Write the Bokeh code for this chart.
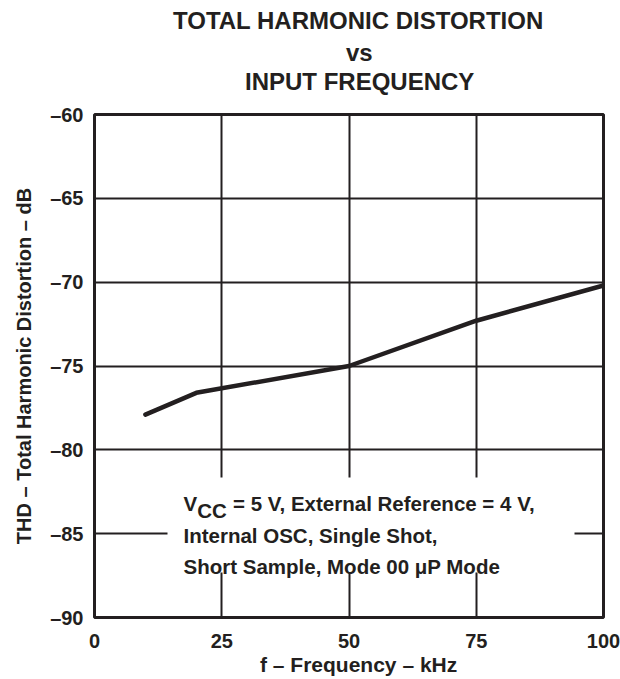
from bokeh.plotting import figure
from bokeh.models import Range1d, FixedTicker, Label, BoxAnnotation, Title
from bokeh.embed import file_html
from bokeh.resources import INLINE

# ---- data ----
freq_khz = [10, 20, 50, 75, 100]
thd_db = [-77.9, -76.6, -75.0, -72.3, -70.2]

x_ticks = [0, 25, 50, 75, 100]
x_tick_labels = ["0", "25", "50", "75", "100"]
y_ticks = [-90, -85, -80, -75, -70, -65, -60]
y_tick_labels = ["–90", "–85", "–80", "–75", "–70", "–65", "–60"]

title_lines = ["TOTAL HARMONIC DISTORTION", "vs", "INPUT FREQUENCY"]
x_label = "f – Frequency – kHz"
y_label = "THD – Total Harmonic Distortion – dB"
note_v = "V"
note_sub = "CC"
note_line1 = "= 5 V, External Reference = 4 V,"
note_line2 = "Internal OSC, Single Shot,"
note_line3 = "Short Sample, Mode 00 μP Mode"

# ---- style / layout ----
INK = "#231f20"
FONT = "Liberation Sans"
W, H = 620, 679
X0, X1 = x_ticks[0], x_ticks[-1]
Y0, Y1 = y_ticks[0], y_ticks[-1]
FL, FR, FT, FB = 94, 603, 114, 617   # frame edges on the canvas (px)


def dx(px):
    return X0 + (px - FL) / (FR - FL) * (X1 - X0)


def dy(py):
    return Y1 - (py - FT) / (FB - FT) * (Y1 - Y0)


p = figure(
    width=W, height=H,
    x_range=Range1d(X0, X1), y_range=Range1d(Y0, Y1),
    output_backend="svg", toolbar_location=None,
    min_border_left=FL, min_border_right=W - FR,
    min_border_top=FT, min_border_bottom=H - FB,
)
p.background_fill_color = "white"
p.border_fill_color = "white"
p.outline_line_color = INK
p.outline_line_width = 3

# grid
p.xgrid.ticker = FixedTicker(ticks=x_ticks)
p.ygrid.ticker = FixedTicker(ticks=y_ticks)
for g in (p.xgrid, p.ygrid):
    g.grid_line_color = INK
    g.grid_line_width = 2

# axes
p.xaxis.ticker = FixedTicker(ticks=x_ticks)
p.yaxis.ticker = FixedTicker(ticks=y_ticks)
p.xaxis.major_label_overrides = dict(zip(x_ticks, x_tick_labels))
p.yaxis.major_label_overrides = dict(zip(y_ticks, y_tick_labels))
for ax in (p.xaxis, p.yaxis):
    ax.axis_line_color = None
    ax.major_tick_line_color = None
    ax.minor_tick_line_color = None
    ax.major_tick_in = 0
    ax.major_tick_out = 0
    ax.minor_tick_in = 0
    ax.minor_tick_out = 0
    ax.major_label_text_font = FONT
    ax.major_label_text_font_style = "bold"
    ax.major_label_text_font_size = "20px"
    ax.major_label_text_color = INK
p.xaxis.major_label_standoff = 16
p.yaxis.major_label_standoff = 11

p.yaxis.axis_label = y_label
p.yaxis.axis_label_standoff = 12
p.yaxis.axis_label_text_font = FONT
p.yaxis.axis_label_text_font_style = "bold"
p.yaxis.axis_label_text_font_size = "20px"
p.yaxis.axis_label_text_color = INK

# gap between the frame and the title block
p.add_layout(Title(text=" ", text_font_size="1px", standoff=17), "above")

# titles (stacked outward from the frame), each centred at x = 359
TCX = 359
title_widths = [373, 27, 229]   # rendered widths at 24px bold
for line, wpx, so in zip(reversed(title_lines), reversed(title_widths), [0, 0, 6]):
    p.add_layout(Title(text=line, align="left", offset=TCX - wpx / 2 - FL,
                       text_font=FONT, text_font_style="bold",
                       text_font_size="24px", text_color=INK, standoff=so), "above")

# x axis title (below), centred at x = 358
p.add_layout(Title(text=x_label, align="left", offset=358 - 197 / 2 - FL,
                   text_font=FONT, text_font_style="bold",
                   text_font_size="21px", text_color=INK, standoff=0), "below")

# data line
p.line(freq_khz, thd_db, line_width=4.5, line_color=INK,
       line_cap="round", line_join="round")

# white box behind the note
p.add_layout(BoxAnnotation(left=dx(167), right=dx(574), top=dy(477), bottom=dy(572),
                           fill_color="white", fill_alpha=1, line_color=None))


def lab(text, px, py, size):
    p.add_layout(Label(x=dx(px), y=dy(py), text=text,
                       text_font=FONT, text_font_style="bold",
                       text_font_size=size, text_color=INK,
                       text_align="left", text_baseline="alphabetic"))


lab(note_v, 183, 503, "20.5px")
lab(note_sub, 196.7, 510, "20.5px")
lab(note_line1, 232.5, 503, "20.5px")
lab(note_line2, 183, 535, "20.5px")
lab(note_line3, 183, 566, "20.5px")

open("out.html", "w").write(file_html(p, INLINE))
